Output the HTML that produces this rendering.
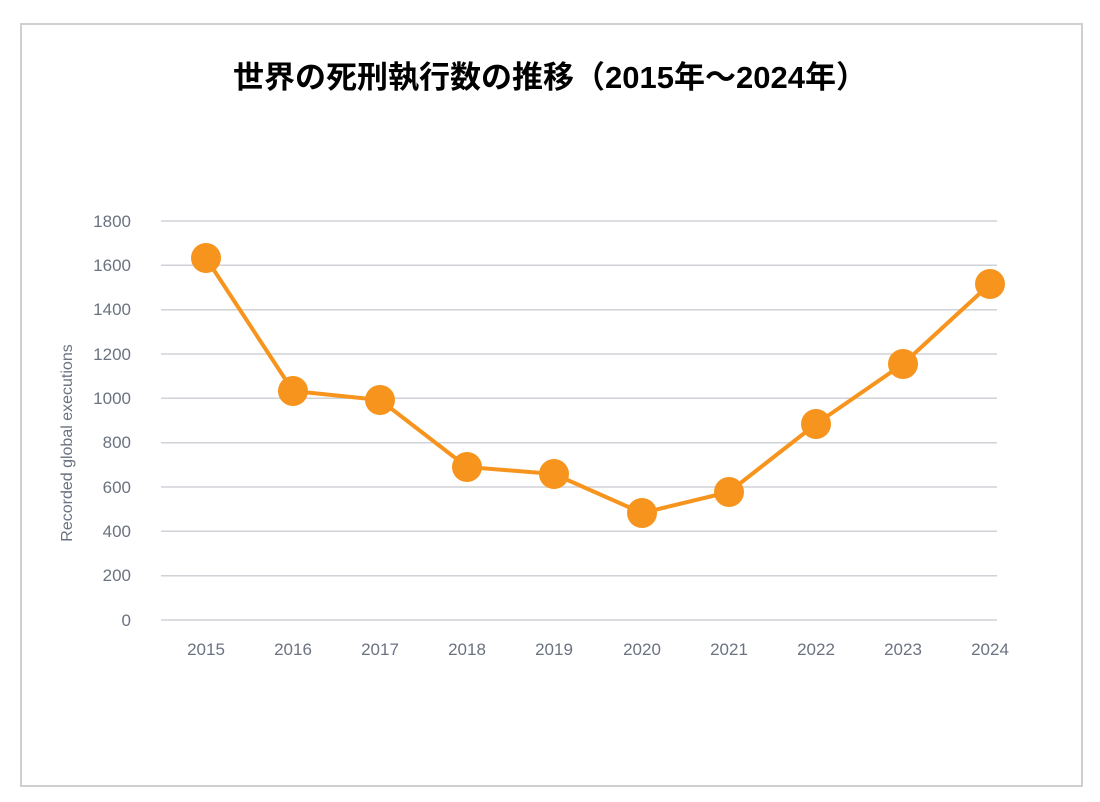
<!DOCTYPE html>
<html><head><meta charset="utf-8"><style>
html,body{margin:0;padding:0;background:#fff;}
svg{display:block;}
</style></head><body>
<svg width="1100" height="802" xmlns="http://www.w3.org/2000/svg">
<rect x="21" y="24" width="1061" height="762" fill="#fff" stroke="#cfcfcf" stroke-width="2"/>
<text x="550" y="88" text-anchor="middle" font-family="'Liberation Sans','Noto Sans CJK JP',sans-serif" font-weight="bold" font-size="31" fill="#000">世界の死刑執行数の推移（2015年～2024年）</text>
<g stroke="#cfd2d6" stroke-width="1.5">
<line x1="161" x2="997" y1="221" y2="221"/><line x1="161" x2="997" y1="265.3" y2="265.3"/>
<line x1="161" x2="997" y1="309.7" y2="309.7"/><line x1="161" x2="997" y1="354" y2="354"/>
<line x1="161" x2="997" y1="398.3" y2="398.3"/><line x1="161" x2="997" y1="442.7" y2="442.7"/>
<line x1="161" x2="997" y1="487" y2="487"/><line x1="161" x2="997" y1="531.3" y2="531.3"/>
<line x1="161" x2="997" y1="575.7" y2="575.7"/><line x1="161" x2="997" y1="620" y2="620"/>
</g>
<g font-family="'Liberation Sans',sans-serif" font-size="17" fill="#6b7280" text-anchor="end">
<text x="131" y="227">1800</text><text x="131" y="271">1600</text><text x="131" y="315">1400</text>
<text x="131" y="360">1200</text><text x="131" y="404">1000</text><text x="131" y="448">800</text>
<text x="131" y="493">600</text><text x="131" y="537">400</text><text x="131" y="581">200</text>
<text x="131" y="626">0</text>
</g>
<g font-family="'Liberation Sans',sans-serif" font-size="17" fill="#6b7280" text-anchor="middle">
<text x="206" y="655">2015</text><text x="293" y="655">2016</text><text x="380" y="655">2017</text>
<text x="467" y="655">2018</text><text x="554" y="655">2019</text><text x="642" y="655">2020</text>
<text x="729" y="655">2021</text><text x="816" y="655">2022</text><text x="903" y="655">2023</text>
<text x="990" y="655">2024</text>
</g>
<text transform="translate(72,443) rotate(-90)" text-anchor="middle" font-family="'Liberation Sans',sans-serif" font-size="16" fill="#6b7280">Recorded global executions</text>
<polyline fill="none" stroke="#F7941D" stroke-width="4" stroke-linejoin="round" points="206,258 293,391 380,400 467,467 554,474 642,513 729,492 816,424 903,364 990,284"/>
<g fill="#F7941D">
<circle cx="206" cy="258" r="15"/><circle cx="293" cy="391" r="15"/><circle cx="380" cy="400" r="15"/>
<circle cx="467" cy="467" r="15"/><circle cx="554" cy="474" r="15"/><circle cx="642" cy="513" r="15"/>
<circle cx="729" cy="492" r="15"/><circle cx="816" cy="424" r="15"/><circle cx="903" cy="364" r="15"/>
<circle cx="990" cy="284" r="15"/>
</g>
</svg>
</body></html>
